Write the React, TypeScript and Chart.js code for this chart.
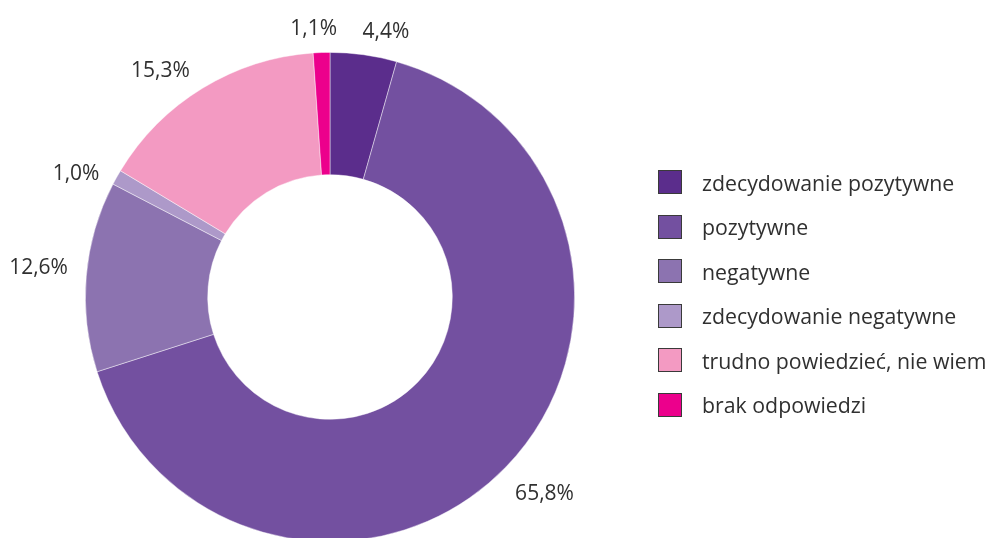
import React, { useEffect, useRef } from "react";
import { Chart, registerables } from "chart.js";

Chart.register(...registerables);

const categories = [
  "zdecydowanie pozytywne",
  "pozytywne",
  "negatywne",
  "zdecydowanie negatywne",
  "trudno powiedzieć, nie wiem",
  "brak odpowiedzi",
];
const values = [4.4, 65.8, 12.6, 1.0, 15.3, 1.1];
const valueLabels = ["4,4%", "65,8%", "12,6%", "1,0%", "15,3%", "1,1%"];
const colors = ["#5b2d8c", "#7350a0", "#8c73b0", "#ad99c9", "#f39ac2", "#ec008c"];
// small nudges for the outside labels: angle (degrees) and extra radial gap (px)
const labelNudgeDeg = [4, -1.5, 0.8, -3.5, -5.5, -1.5];
const labelExtraGap = [0, 6, 6, 0, 0, 0];

const FONT = "'Open Sans', 'DejaVu Sans', sans-serif";

const outsideLabels = {
  id: "outsideLabels",
  afterDatasetsDraw(chart: any) {
    const ctx = chart.ctx;
    const meta = chart.getDatasetMeta(0);
    ctx.save();
    ctx.font = `21px ${FONT}`;
    ctx.fillStyle = "#303030";
    ctx.textAlign = "center";
    ctx.textBaseline = "middle";
    meta.data.forEach((arc: any, i: number) => {
      const p = arc.getProps(["x", "y", "startAngle", "endAngle", "outerRadius"], true);
      const a = (p.startAngle + p.endAngle) / 2 + (labelNudgeDeg[i] * Math.PI) / 180;
      const text = valueLabels[i];
      const w = ctx.measureText(text).width;
      const h = 20;
      const c = Math.cos(a);
      const s = Math.sin(a);
      const d =
        p.outerRadius + 12 + labelExtraGap[i] + (w / 2) * Math.abs(c) + (h / 2) * Math.abs(s);
      ctx.fillText(text, p.x + d * c, p.y + d * s);
    });
    ctx.restore();
  },
};

export default function App() {
  const ref = useRef<HTMLCanvasElement | null>(null);
  useEffect(() => {
    if (!ref.current) return;
    const chart = new Chart(ref.current, {
      type: "doughnut",
      data: {
        labels: categories,
        datasets: [
          {
            data: values,
            backgroundColor: colors,
            borderColor: "rgba(255,255,255,0.55)",
            borderWidth: 0.8,
          },
        ],
      },
      options: {
        animation: false,
        responsive: false,
        cutout: "50%",
        layout: { padding: { left: 85, right: 413, top: 52, bottom: 58 } },
        plugins: {
          legend: { display: false },
          tooltip: { enabled: false },
        },
      },
      plugins: [outsideLabels],
    });
    return () => chart.destroy();
  }, []);

  return (
    <div
      style={{
        position: "fixed",
        left: 0,
        top: 0,
        width: 988,
        height: 538,
        overflow: "hidden",
        background: "#fff",
      }}
    >
      <canvas ref={ref} width={988} height={600} style={{ position: "absolute", left: 0, top: 0 }} />
      <div style={{ position: "absolute", left: 658, top: 160, fontFamily: FONT }}>
        {categories.map((c, i) => (
          <div key={c} style={{ display: "flex", alignItems: "center", height: 44.5 }}>
            <div
              style={{
                width: 22,
                height: 22,
                background: colors[i],
                border: "1.5px solid #3a3a3a",
                marginRight: 20,
                flexShrink: 0,
              }}
            />
            <span style={{ fontSize: 21.3, color: "#303030", whiteSpace: "nowrap" }}>{c}</span>
          </div>
        ))}
      </div>
    </div>
  );
}
